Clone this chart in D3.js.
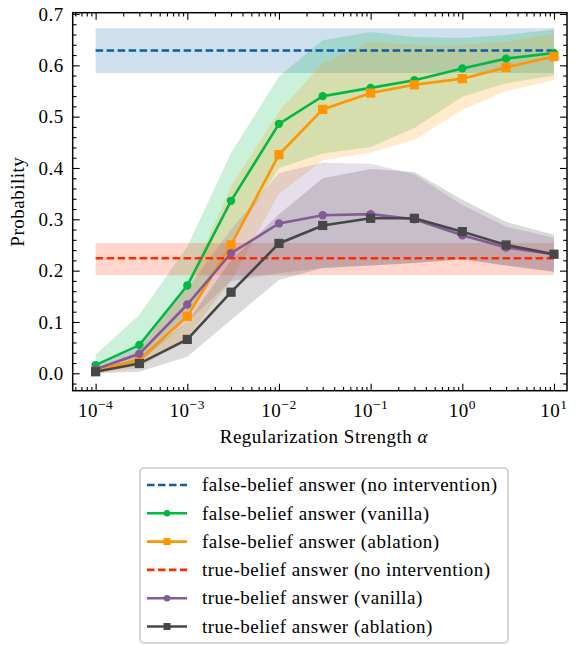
<!DOCTYPE html>
<html><head><meta charset="utf-8">
<script src="https://cdn.jsdelivr.net/npm/d3@7"></script>
<style>body{margin:0;background:#fff}svg{display:block}</style>
</head><body>
<svg id="chart" width="576" height="645"></svg>
<script>
// ---- data ----
const alphas = [1e-4, 3e-4, 1e-3, 3e-3, 1e-2, 3e-2, 1e-1, 3e-1, 1, 3, 10];
const fbVanilla      = [0.016, 0.055, 0.171, 0.336, 0.486, 0.540, 0.556, 0.571, 0.594, 0.613, 0.624];
const fbVanillaUpper = [0.036, 0.114, 0.247, 0.429, 0.578, 0.649, 0.665, 0.655, 0.653, 0.659, 0.670];
const fbVanillaLower = [0.000, 0.020, 0.110, 0.255, 0.400, 0.428, 0.441, 0.478, 0.539, 0.565, 0.580];
const fbAblation      = [0.005, 0.027, 0.111, 0.250, 0.426, 0.514, 0.546, 0.562, 0.574, 0.596, 0.617];
const fbAblationUpper = [0.010, 0.045, 0.170, 0.364, 0.510, 0.604, 0.646, 0.640, 0.640, 0.646, 0.661];
const fbAblationLower = [0.000, 0.010, 0.070, 0.180, 0.350, 0.415, 0.430, 0.455, 0.513, 0.550, 0.571];
const tbVanilla      = [0.008, 0.038, 0.134, 0.234, 0.292, 0.308, 0.310, 0.300, 0.269, 0.245, 0.232];
const tbVanillaUpper = [0.012, 0.055, 0.165, 0.280, 0.390, 0.410, 0.408, 0.388, 0.328, 0.286, 0.264];
const tbVanillaLower = [0.003, 0.022, 0.100, 0.180, 0.195, 0.205, 0.210, 0.215, 0.222, 0.210, 0.198];
const tbAblation      = [0.003, 0.019, 0.066, 0.158, 0.253, 0.288, 0.302, 0.302, 0.276, 0.250, 0.232];
const tbAblationUpper = [0.008, 0.030, 0.100, 0.220, 0.310, 0.380, 0.398, 0.392, 0.338, 0.295, 0.270];
const tbAblationLower = [0.000, 0.003, 0.032, 0.104, 0.182, 0.205, 0.210, 0.215, 0.222, 0.210, 0.198];
const fbNoInt = 0.629, fbNoIntUpper = 0.672, fbNoIntLower = 0.585;
const tbNoInt = 0.224, tbNoIntUpper = 0.254, tbNoIntLower = 0.191;
const yTicks = [0.0, 0.1, 0.2, 0.3, 0.4, 0.5, 0.6, 0.7];
const xTickExps = [-4, -3, -2, -1, 0, 1];
const legendLabels = [
  "false-belief answer (no intervention)",
  "false-belief answer (vanilla)",
  "false-belief answer (ablation)",
  "true-belief answer (no intervention)",
  "true-belief answer (vanilla)",
  "true-belief answer (ablation)"
];

// ---- layout ----
const L = 72.7, T = 12.7, R = 567, B = 390.7;
const font = "'Liberation Serif', 'Times New Roman', serif";
const fs = 19, ls = 0.5;
const svg = d3.select("#chart");
const x = d3.scaleLog().domain([Math.pow(10, -4.25), Math.pow(10, 1.142)]).range([L, R]);
const y = d3.scaleLinear().domain([-0.0339, 0.7025]).range([B, T]);

const series = [
  {key:"fbNo", color:"#0C5DA5", vals:alphas.map(()=>fbNoInt), up:alphas.map(()=>fbNoIntUpper), lo:alphas.map(()=>fbNoIntLower), dash:true},
  {key:"fbV", color:"#00B945", vals:fbVanilla, up:fbVanillaUpper, lo:fbVanillaLower, marker:"circle"},
  {key:"fbA", color:"#FF9500", vals:fbAblation, up:fbAblationUpper, lo:fbAblationLower, marker:"square"},
  {key:"tbNo", color:"#FF2C00", vals:alphas.map(()=>tbNoInt), up:alphas.map(()=>tbNoIntUpper), lo:alphas.map(()=>tbNoIntLower), dash:true},
  {key:"tbV", color:"#845B97", vals:tbVanilla, up:tbVanillaUpper, lo:tbVanillaLower, marker:"circle"},
  {key:"tbA", color:"#474747", vals:tbAblation, up:tbAblationUpper, lo:tbAblationLower, marker:"square"}
];

const defs = svg.append("defs");
defs.append("clipPath").attr("id","clip").append("rect").attr("x",L).attr("y",T).attr("width",R-L).attr("height",B-T);
const plot = svg.append("g").attr("clip-path","url(#clip)");

const area = d3.area().x((d,i)=>x(alphas[i])).y0(d=>y(d[0])).y1(d=>y(d[1]));
const line = d3.line().x((d,i)=>x(alphas[i])).y(d=>y(d));

series.forEach(s=>{
  plot.append("path").datum(s.lo.map((l,i)=>[l,s.up[i]]))
    .attr("d", area).attr("fill", s.color).attr("fill-opacity", 0.2).attr("stroke","none");
});
series.forEach(s=>{
  plot.append("path").datum(s.vals).attr("d", line).attr("fill","none")
    .attr("stroke", s.color).attr("stroke-width", s.dash?2.4:2.6)
    .attr("stroke-dasharray", s.dash?"7.5,3.5":null);
  if (s.marker==="circle") {
    plot.selectAll(null).data(s.vals).enter().append("circle")
      .attr("cx",(d,i)=>x(alphas[i])).attr("cy",d=>y(d)).attr("r",4.2).attr("fill",s.color);
  } else if (s.marker==="square") {
    plot.selectAll(null).data(s.vals).enter().append("rect")
      .attr("x",(d,i)=>x(alphas[i])-4.6).attr("y",d=>y(d)-4.6).attr("width",9.2).attr("height",9.2).attr("fill",s.color);
  }
});

// ---- axes ----
const minorX = [];
for (let e=-5; e<=1; e++) for (let m=2; m<=9; m++) { const v=m*Math.pow(10,e); if (v>x.domain()[0] && v<x.domain()[1]) minorX.push(v); }
const majorX = xTickExps.map(e=>Math.pow(10,e));
const minorY = d3.range(-0.02, 0.70, 0.02).filter(v=>Math.abs(Math.round(v*10)-v*10)>1e-6);

function styleAxis(g){ g.select(".domain").remove(); g.selectAll("line").attr("stroke","#000").attr("stroke-width",1.1); }

svg.append("g").attr("transform",`translate(0,${B})`)
  .call(d3.axisBottom(x).tickValues(majorX).tickSize(-7).tickFormat("")).call(styleAxis);
svg.append("g").attr("transform",`translate(0,${B})`).call(d3.axisBottom(x).tickValues(minorX).tickSize(-3.8).tickFormat("")).call(styleAxis);
svg.append("g").attr("transform",`translate(0,${T})`).call(d3.axisTop(x).tickValues(majorX).tickSize(-7).tickFormat("")).call(styleAxis);
svg.append("g").attr("transform",`translate(0,${T})`).call(d3.axisTop(x).tickValues(minorX).tickSize(-3.8).tickFormat("")).call(styleAxis);
svg.append("g").attr("transform",`translate(${L},0)`).call(d3.axisLeft(y).tickValues(yTicks).tickSize(-7).tickPadding(9).tickFormat(d3.format(".1f")))
  .call(styleAxis).call(g=>g.selectAll("text").attr("font-family",font).attr("font-size",fs).attr("letter-spacing",ls).attr("fill","#000"));
svg.append("g").attr("transform",`translate(${L},0)`).call(d3.axisLeft(y).tickValues(minorY).tickSize(-3.8).tickFormat("")).call(styleAxis);
svg.append("g").attr("transform",`translate(${R},0)`).call(d3.axisRight(y).tickValues(yTicks).tickSize(-7).tickFormat("")).call(styleAxis);
svg.append("g").attr("transform",`translate(${R},0)`).call(d3.axisRight(y).tickValues(minorY).tickSize(-3.8).tickFormat("")).call(styleAxis);

// x tick labels with superscripts
xTickExps.forEach(e=>{
  const t = svg.append("text").attr("x", x(Math.pow(10,e))).attr("y", B+26.5)
    .attr("text-anchor","middle").attr("font-family",font).attr("font-size",fs).attr("letter-spacing",ls).attr("fill","#000");
  t.append("tspan").text("10");
  t.append("tspan").attr("dy",-8).attr("font-size",13.5).text(e<0 ? "\u2212"+Math.abs(e) : String(e));
});

svg.append("rect").attr("x",L).attr("y",T).attr("width",R-L).attr("height",B-T)
  .attr("fill","none").attr("stroke","#000").attr("stroke-width",1.5);

// axis labels
const xl = svg.append("text").attr("x",(L+R)/2 + 4).attr("y",443).attr("text-anchor","middle")
  .attr("font-family",font).attr("font-size",fs).attr("letter-spacing",ls).attr("fill","#000");
xl.append("tspan").text("Regularization Strength ");
xl.append("tspan").attr("font-style","italic").text("\u03B1");
svg.append("text").attr("transform",`translate(24,${(T+B)/2}) rotate(-90)`).attr("text-anchor","middle")
  .attr("font-family",font).attr("font-size",fs).attr("letter-spacing",ls).attr("fill","#000").text("Probability");

// ---- legend ----
const lg = svg.append("g");
lg.append("rect").attr("x",140).attr("y",468).attr("width",368).attr("height",175).attr("rx",4)
  .attr("fill","#fff").attr("fill-opacity",0.8).attr("stroke","#cccccc").attr("stroke-width",1.6);
series.forEach((s,i)=>{
  const yy = 485 + i*28.3;
  lg.append("line").attr("x1",147).attr("x2",187).attr("y1",yy).attr("y2",yy)
    .attr("stroke",s.color).attr("stroke-width",2.6).attr("stroke-dasharray", s.dash?"7.5,3.5":null);
  if (s.marker==="circle") lg.append("circle").attr("cx",167).attr("cy",yy).attr("r",3.3).attr("fill",s.color);
  if (s.marker==="square") lg.append("rect").attr("x",163.5).attr("y",yy-3.5).attr("width",7).attr("height",7).attr("fill",s.color);
  lg.append("text").attr("x",202).attr("y",yy).attr("dy","0.33em").attr("font-family",font).attr("font-size",fs)
    .attr("letter-spacing",ls).attr("fill","#000").text(legendLabels[i]);
});
</script>
</body></html>
